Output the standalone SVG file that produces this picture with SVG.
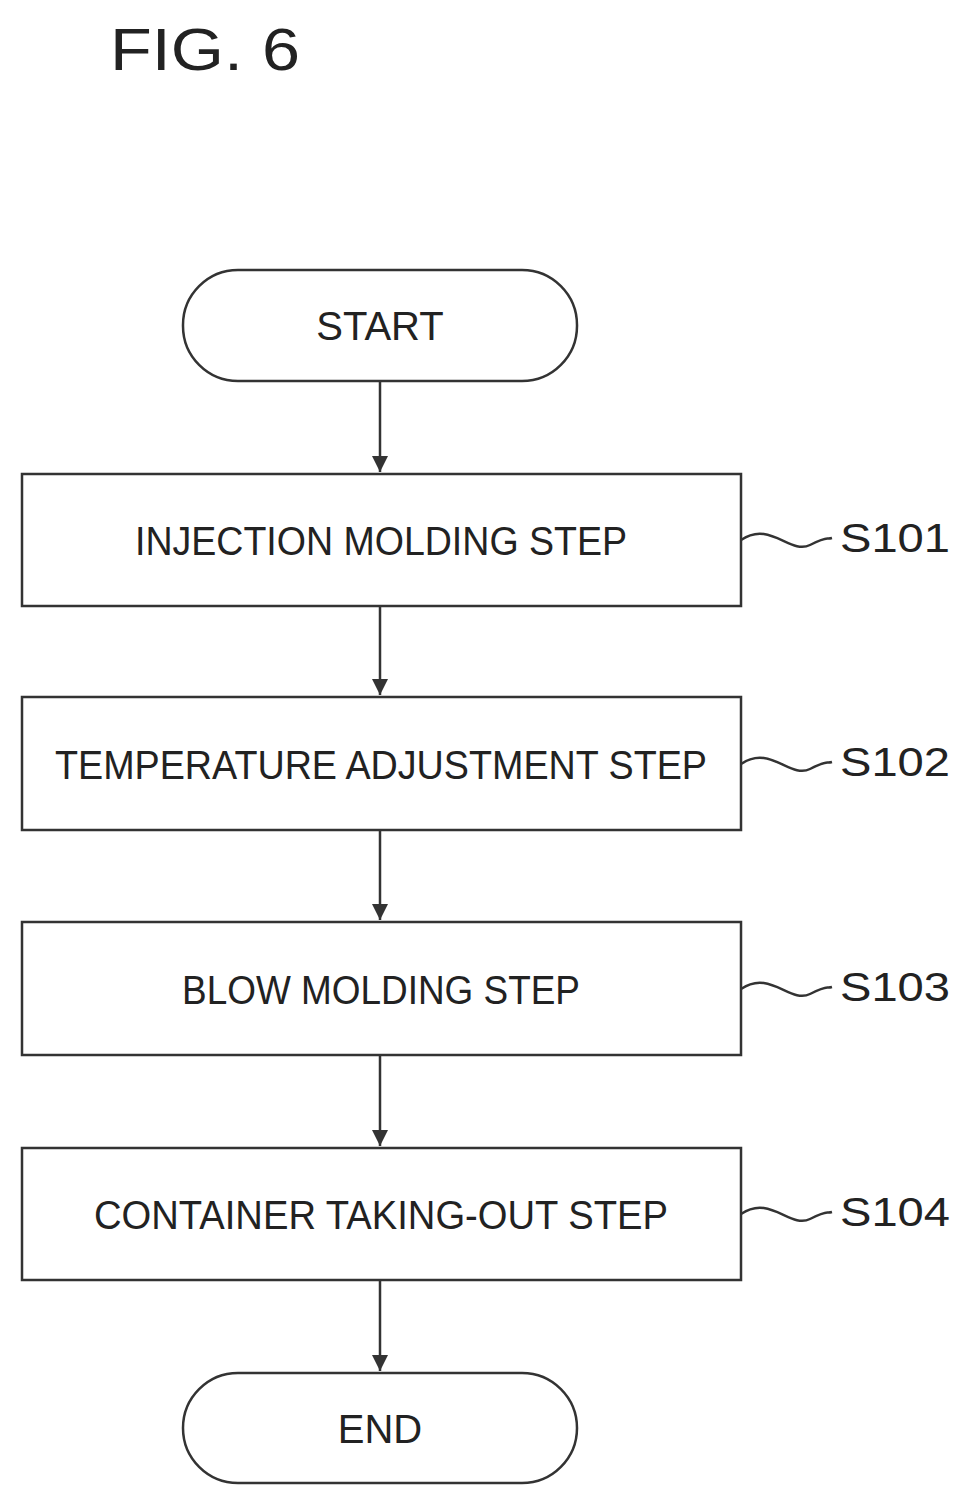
<svg xmlns="http://www.w3.org/2000/svg" width="974" height="1506" viewBox="0 0 974 1506">
<defs>
<style>
.b{fill:#fff;stroke:#333;stroke-width:2.5}
.c{stroke:#333;stroke-width:2.5;fill:none}
.t{font-family:"Liberation Sans",Arial,sans-serif;font-size:40px;fill:#222;text-anchor:middle}
.l{font-family:"Liberation Sans",Arial,sans-serif;font-size:40px;fill:#222}
</style>
<marker id="a" markerWidth="16" markerHeight="16" refX="16" refY="8" orient="auto" markerUnits="userSpaceOnUse"><path d="M0,0 L16,8 L0,16 Z" fill="#333"/></marker>
</defs>
<rect width="974" height="1506" fill="#fff"/>
<text x="110" y="70" style="font-family:'Liberation Sans',Arial,sans-serif;font-size:60px;fill:#222" textLength="190" lengthAdjust="spacingAndGlyphs">FIG. 6</text>
<g id="start"><rect class="b" x="183" y="270" width="394" height="111" rx="55"/><text class="t" x="380" y="340">START</text></g>
<g id="s101"><rect class="b" x="22" y="474" width="719" height="132"/><text class="t" x="381" y="555" textLength="492" lengthAdjust="spacingAndGlyphs">INJECTION MOLDING STEP</text></g>
<g id="s102"><rect class="b" x="22" y="697" width="719" height="133"/><text class="t" x="381" y="779" textLength="652" lengthAdjust="spacingAndGlyphs">TEMPERATURE ADJUSTMENT STEP</text></g>
<g id="s103"><rect class="b" x="22" y="922" width="719" height="133"/><text class="t" x="381" y="1004" textLength="398" lengthAdjust="spacingAndGlyphs">BLOW MOLDING STEP</text></g>
<g id="s104"><rect class="b" x="22" y="1148" width="719" height="132"/><text class="t" x="381" y="1229" textLength="574" lengthAdjust="spacingAndGlyphs">CONTAINER TAKING-OUT STEP</text></g>
<g id="end"><rect class="b" x="183" y="1373" width="394" height="110" rx="55"/><text class="t" x="380" y="1443">END</text></g>
<g id="labels">
<path class="c" d="M741,540 C770,520 790,555 810,545 S825,540 832,538"/><text class="l" x="840" y="552" textLength="110" lengthAdjust="spacingAndGlyphs">S101</text>
<path class="c" d="M741,764 C770,744 790,779 810,769 S825,764 832,762"/><text class="l" x="840" y="776" textLength="110" lengthAdjust="spacingAndGlyphs">S102</text>
<path class="c" d="M741,989 C770,969 790,1004 810,994 S825,989 832,987"/><text class="l" x="840" y="1001" textLength="110" lengthAdjust="spacingAndGlyphs">S103</text>
<path class="c" d="M741,1214 C770,1194 790,1229 810,1219 S825,1214 832,1212"/><text class="l" x="840" y="1226" textLength="110" lengthAdjust="spacingAndGlyphs">S104</text>
</g>
<g id="connectors">
<line class="c" x1="380" y1="381" x2="380" y2="472" marker-end="url(#a)"/>
<line class="c" x1="380" y1="606" x2="380" y2="695" marker-end="url(#a)"/>
<line class="c" x1="380" y1="830" x2="380" y2="920" marker-end="url(#a)"/>
<line class="c" x1="380" y1="1055" x2="380" y2="1146" marker-end="url(#a)"/>
<line class="c" x1="380" y1="1280" x2="380" y2="1371" marker-end="url(#a)"/>
</g>
</svg>
